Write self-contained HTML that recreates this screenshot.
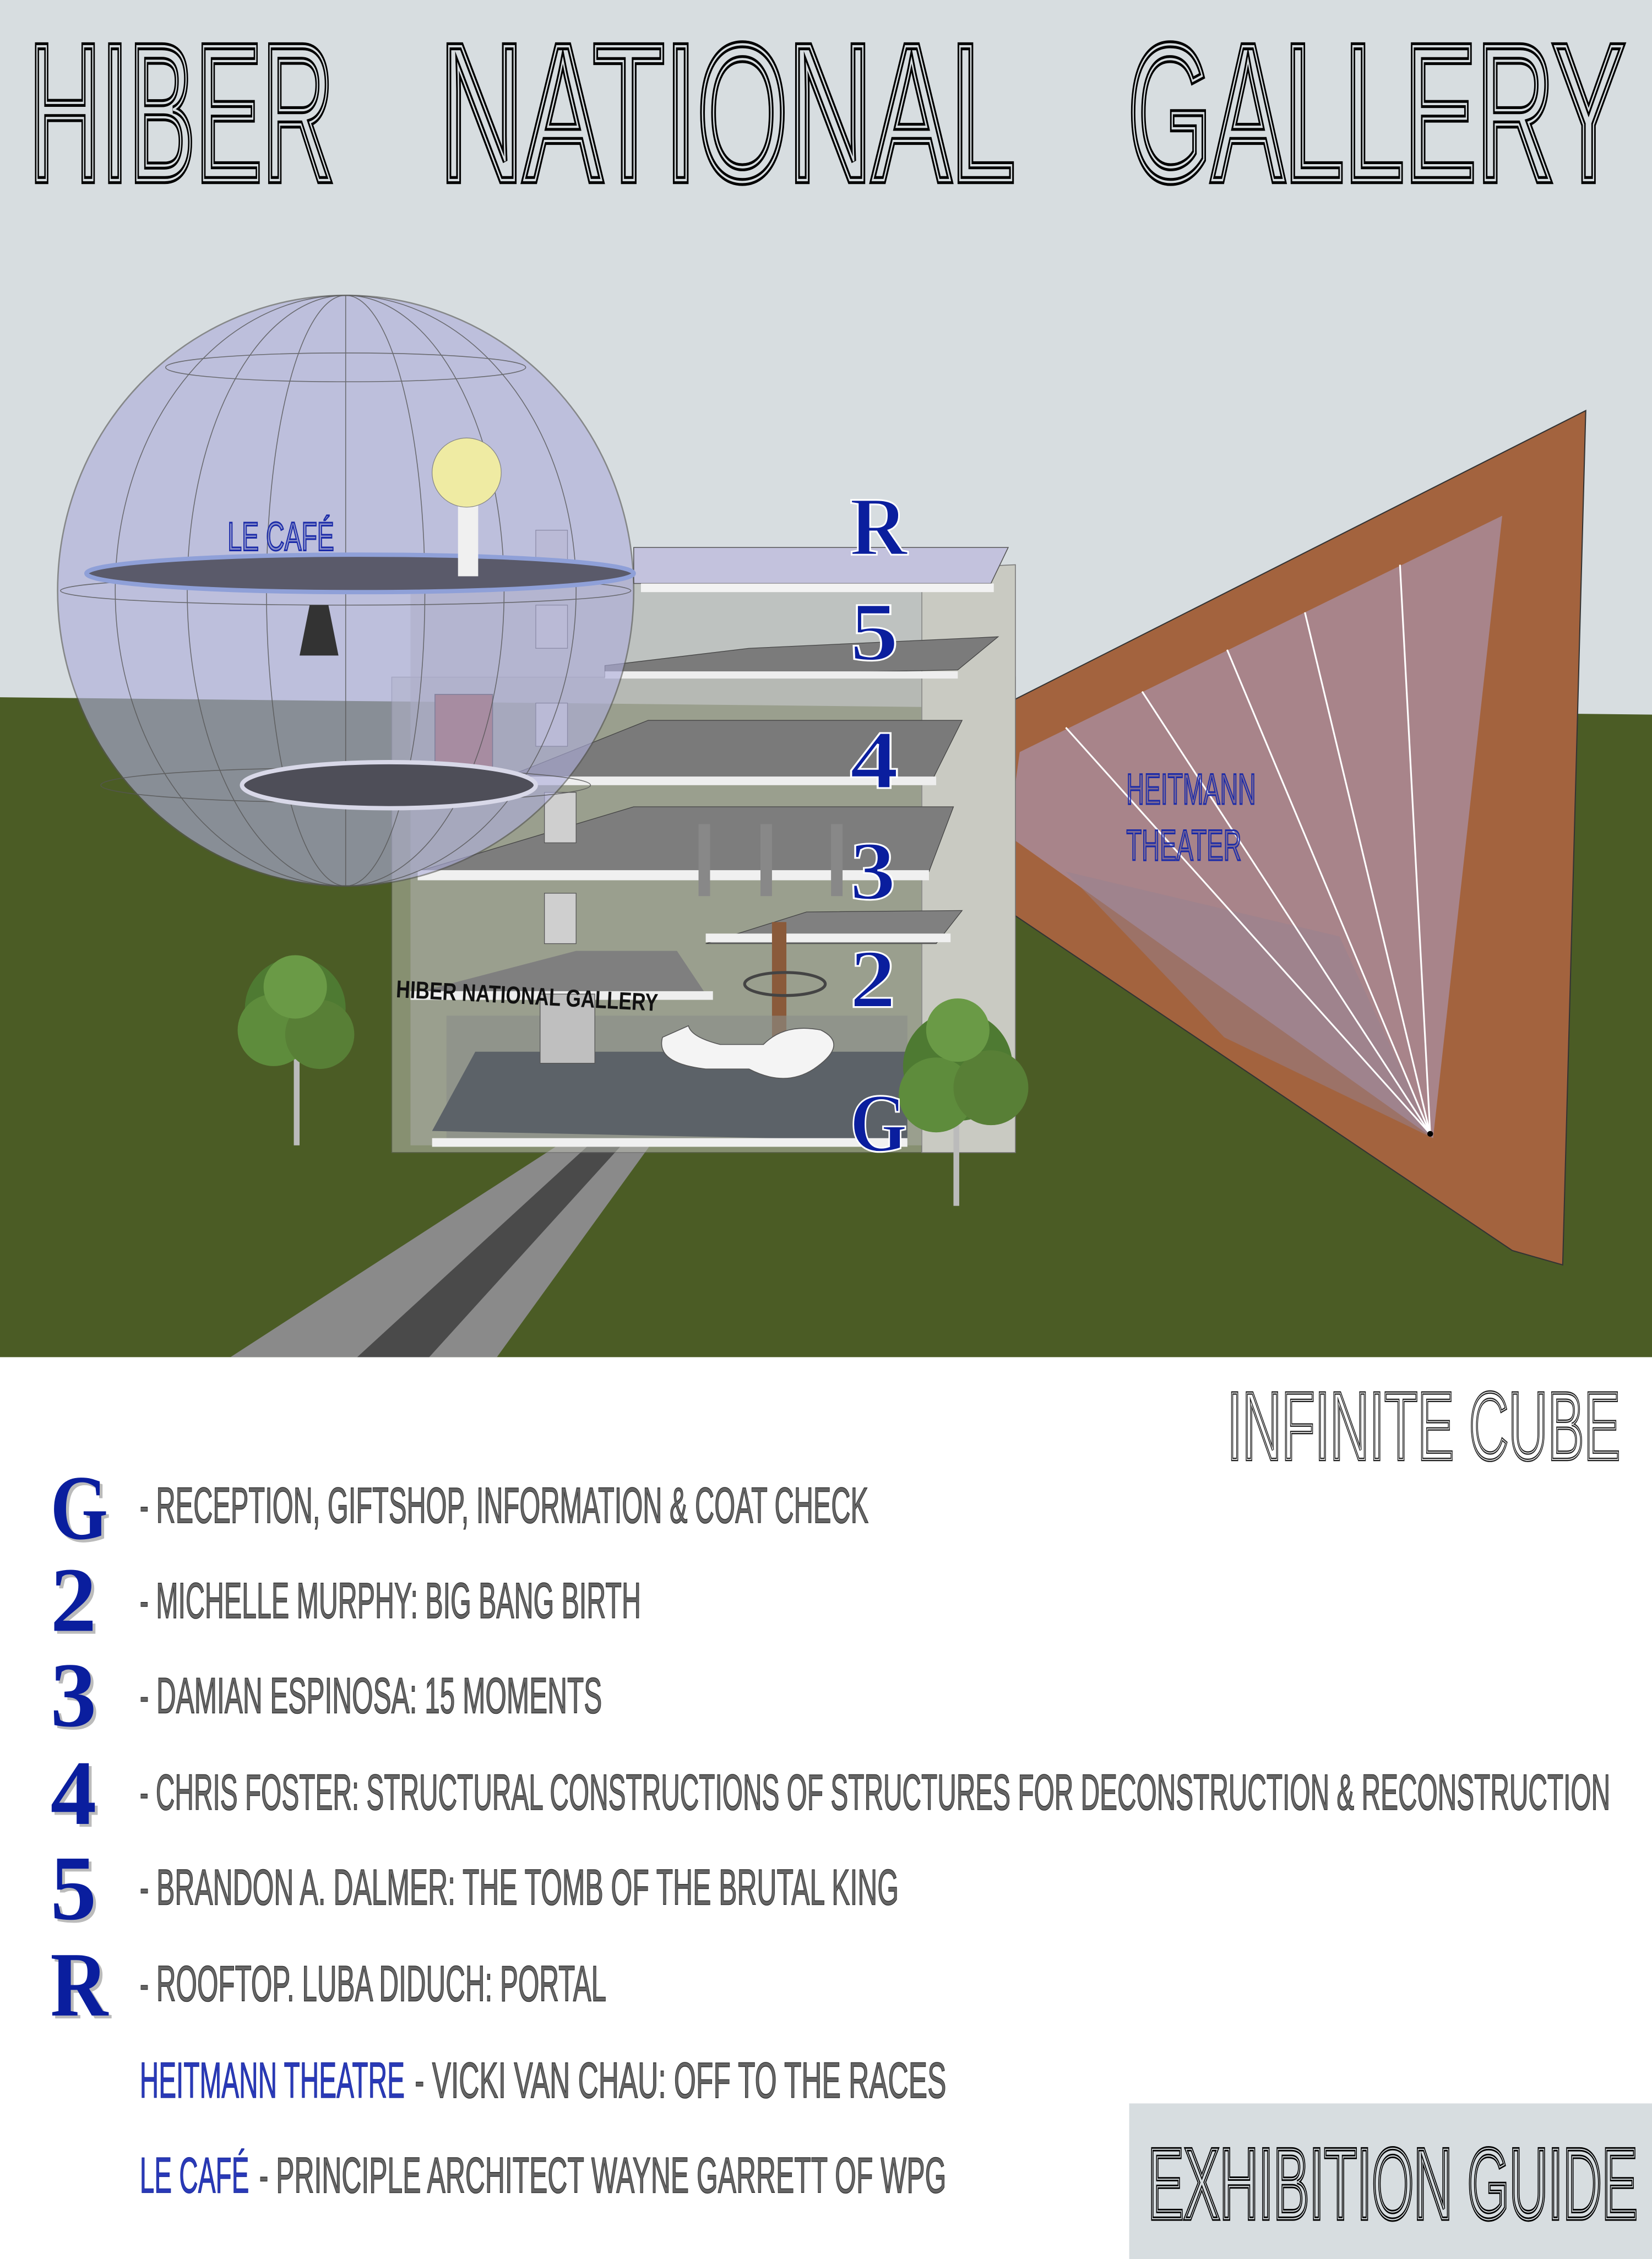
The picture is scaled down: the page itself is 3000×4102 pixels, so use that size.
<!DOCTYPE html>
<html><head><meta charset="utf-8"><style>html,body{margin:0;padding:0;background:#fff}svg{display:block}</style></head>
<body>
<svg width="3000" height="4102" viewBox="0 0 1147 1568" preserveAspectRatio="none" xmlns="http://www.w3.org/2000/svg">
<rect x="0" y="0" width="1147" height="1568" fill="#ffffff"/>
<rect x="0" y="0" width="1147" height="500" fill="#d7dde0"/>
<polygon points="0,484 1147,496 1147,942 0,942" fill="#4b5c25"/>
<polygon points="160,942 395,790 455,790 345,942" fill="#8a8a8a"/>
<polygon points="248,942 414,790 436,790 298,942" fill="#4a4a4a"/>

<g font-family="Liberation Sans, sans-serif" font-size="135" fill="none">
<g stroke="#000" stroke-width="5.5">
<text x="20" y="125" textLength="212" lengthAdjust="spacingAndGlyphs">HIBER</text>
<text x="305" y="125" textLength="400" lengthAdjust="spacingAndGlyphs">NATIONAL</text>
<text x="783" y="125" textLength="345" lengthAdjust="spacingAndGlyphs">GALLERY</text>
</g>
<g stroke="#d7dde0" stroke-width="1.6">
<text x="20" y="125" textLength="212" lengthAdjust="spacingAndGlyphs">HIBER</text>
<text x="305" y="125" textLength="400" lengthAdjust="spacingAndGlyphs">NATIONAL</text>
<text x="783" y="125" textLength="345" lengthAdjust="spacingAndGlyphs">GALLERY</text>
</g>
</g>

<polygon points="666,505 1101,285 1085,878 1050,868 655,602" fill="#a3633e" stroke="#333" stroke-width="0.8"/>
<polygon points="708,522 1043,358 995,790 700,580" fill="#a8848a"/>
<polygon points="740,605 930,650 995,790 850,720" fill="#96818f" opacity="0.5"/>
<g stroke="#fff" stroke-width="1.2">
<line x1="993" y1="787" x2="740" y2="505"/>
<line x1="993" y1="787" x2="793" y2="480"/>
<line x1="993" y1="787" x2="852" y2="451"/>
<line x1="993" y1="787" x2="906" y2="425"/>
<line x1="993" y1="787" x2="972" y2="392"/>
</g>
<circle cx="993" cy="787" r="2" fill="#000"/>
<text x="782" y="558" font-family="Liberation Sans, sans-serif" font-size="30" fill="#1a2aa8" fill-opacity="0.3" stroke="#1a2aa8" stroke-width="1.1" textLength="90" lengthAdjust="spacingAndGlyphs">HEITMANN</text>
<text x="782" y="597" font-family="Liberation Sans, sans-serif" font-size="30" fill="#1a2aa8" fill-opacity="0.3" stroke="#1a2aa8" stroke-width="1.1" textLength="80" lengthAdjust="spacingAndGlyphs">THEATER</text>

<rect x="272" y="470" width="433" height="330" fill="#b8bbb0" opacity="0.55" stroke="#666" stroke-width="0.6"/>
<polygon points="640,395 705,392 705,800 640,800" fill="#c9cac2" stroke="#777" stroke-width="0.6"/>
<rect x="285" y="400" width="355" height="395" fill="#a9aca6" opacity="0.55"/>
<polygon points="440,380 700,380 688,405 440,405" fill="#c3c2dd" stroke="#555" stroke-width="0.6"/>
<rect x="445" y="405" width="245" height="6" fill="#f2f2f2"/>
<polygon points="420,462 520,450 693,442 665,465 420,470" fill="#7b7b7b" stroke="#444" stroke-width="0.5"/>
<rect x="420" y="466" width="245" height="5" fill="#eee"/>
<polygon points="350,540 450,500 668,500 648,540" fill="#7a7a7a" stroke="#444" stroke-width="0.5"/>
<rect x="350" y="539" width="300" height="6" fill="#eee"/>
<polygon points="290,605 440,560 662,560 645,605" fill="#7d7d7d" stroke="#444" stroke-width="0.5"/>
<rect x="290" y="604" width="355" height="7" fill="#f0f0f0"/>
<rect x="485" y="572" width="8" height="50" fill="#888"/>
<rect x="528" y="572" width="8" height="50" fill="#888"/>
<rect x="577" y="572" width="8" height="50" fill="#888"/>
<polygon points="490,655 560,633 668,632 650,655" fill="#808080" stroke="#444" stroke-width="0.5"/>
<rect x="490" y="648" width="170" height="6" fill="#f0f0f0"/>
<polygon points="285,690 400,660 470,660 490,690" fill="#7f7f7f"/>
<rect x="285" y="688" width="210" height="6" fill="#eee"/>
<rect x="536" y="640" width="10" height="95" fill="#8a5a3a"/>
<rect x="310" y="705" width="320" height="90" fill="#8a8d88" opacity="0.6"/>
<polygon points="300,785 330,730 630,730 630,792" fill="#5c6268"/>
<rect x="375" y="690" width="38" height="48" fill="#bfbfbf" stroke="#555" stroke-width="0.5"/>
<path d="M460,720 Q455,738 490,742 L520,742 Q545,755 565,742 Q590,725 570,715 Q545,710 530,725 L500,725 Q480,720 478,712 Z" fill="#f4f4f4" stroke="#555" stroke-width="0.6"/>
<ellipse cx="545" cy="683" rx="28" ry="8" fill="none" stroke="#444" stroke-width="2"/>
<rect x="300" y="790" width="330" height="6" fill="#f0f0f0"/>
<text x="275" y="697" font-family="Liberation Sans, sans-serif" font-weight="bold" font-size="17" fill="#111" textLength="182" lengthAdjust="spacingAndGlyphs" transform="rotate(3 366 690)">HIBER NATIONAL GALLERY</text>
<rect x="372" y="368" width="22" height="28" fill="#cfcfcf" stroke="#555" stroke-width="0.5"/>
<rect x="372" y="420" width="22" height="30" fill="#cfcfcf" stroke="#555" stroke-width="0.5"/>
<rect x="372" y="488" width="22" height="30" fill="#cfcfcf" stroke="#555" stroke-width="0.5"/>
<rect x="378" y="550" width="22" height="35" fill="#cfcfcf" stroke="#555" stroke-width="0.5"/>
<rect x="378" y="620" width="22" height="35" fill="#cfcfcf" stroke="#555" stroke-width="0.5"/>
<rect x="302" y="482" width="40" height="52" fill="#9c5544" stroke="#333" stroke-width="0.6"/>

<ellipse cx="240" cy="410" rx="200" ry="205" fill="#aeaedb" opacity="0.62" stroke="#555" stroke-width="1"/>
<g fill="none" stroke="#555" stroke-width="0.6" opacity="0.8">
<ellipse cx="240" cy="410" rx="160" ry="205"/>
<ellipse cx="240" cy="410" rx="110" ry="205"/>
<ellipse cx="240" cy="410" rx="55" ry="205"/>
<line x1="240" y1="205" x2="240" y2="615"/>
<ellipse cx="240" cy="255" rx="125" ry="10"/>
<ellipse cx="240" cy="410" rx="198" ry="10"/>
<ellipse cx="240" cy="545" rx="170" ry="12"/>
</g>
<ellipse cx="250" cy="398" rx="190" ry="13" fill="#5a5a6a" stroke="#8fa0d8" stroke-width="3"/>
<ellipse cx="270" cy="545" rx="102" ry="16" fill="#4e4e58" stroke="#d8d8e8" stroke-width="3"/>
<rect x="318" y="345" width="14" height="55" fill="#f0f0f0"/>
<circle cx="324" cy="328" r="24" fill="#efeba3" stroke="#888" stroke-width="0.5"/>
<path d="M215,420 L228,420 L235,455 L208,455 Z" fill="#333"/>
<text x="158" y="382" font-family="Liberation Sans, sans-serif" font-size="28" fill="#1a2aa8" fill-opacity="0.3" stroke="#1a2aa8" stroke-width="1.1" textLength="74" lengthAdjust="spacingAndGlyphs">LE CAFÉ</text>

<g>
<rect x="204" y="735" width="4" height="60" fill="#bbb"/>
<circle cx="205" cy="700" r="35" fill="#4e7a32"/>
<circle cx="190" cy="715" r="25" fill="#5e8c3c"/>
<circle cx="222" cy="718" r="24" fill="#587f36"/>
<circle cx="205" cy="685" r="22" fill="#6a9a46"/>
<rect x="662" y="765" width="4" height="72" fill="#bbb"/>
<circle cx="665" cy="740" r="38" fill="#4e7a32"/>
<circle cx="650" cy="760" r="26" fill="#5e8c3c"/>
<circle cx="688" cy="755" r="26" fill="#587f36"/>
<circle cx="665" cy="715" r="22" fill="#6a9a46"/>
</g>

<g font-family="Liberation Serif, serif" font-weight="bold" font-size="58" fill="#0a1e9e" stroke="#fff" stroke-width="1.2">
<text x="590" y="385" textLength="40" lengthAdjust="spacingAndGlyphs">R</text>
<text x="590" y="458" textLength="34" lengthAdjust="spacingAndGlyphs">5</text>
<text x="590" y="547" textLength="34" lengthAdjust="spacingAndGlyphs">4</text>
<text x="590" y="624" textLength="32" lengthAdjust="spacingAndGlyphs">3</text>
<text x="590" y="699" textLength="32" lengthAdjust="spacingAndGlyphs">2</text>
<text x="590" y="799" textLength="40" lengthAdjust="spacingAndGlyphs">G</text>
</g>

<g font-family="Liberation Sans, sans-serif" font-size="67" fill="none">
<text x="852" y="1013" stroke="#222" stroke-width="2.4" textLength="273" lengthAdjust="spacingAndGlyphs">INFINITE CUBE</text>
<text x="852" y="1013" stroke="#fff" stroke-width="0.6" textLength="273" lengthAdjust="spacingAndGlyphs">INFINITE CUBE</text>
</g>
<rect x="784" y="1460" width="363" height="108" fill="#d7dde0"/>
<g font-family="Liberation Sans, sans-serif" font-size="70" fill="none">
<text x="797" y="1540" stroke="#000" stroke-width="3" textLength="340" lengthAdjust="spacingAndGlyphs">EXHIBITION GUIDE</text>
<text x="797" y="1540" stroke="#d7dde0" stroke-width="0.8" textLength="340" lengthAdjust="spacingAndGlyphs">EXHIBITION GUIDE</text>
</g>

<g font-family="Liberation Serif, serif" font-weight="bold" font-size="64">
<g fill="#bbb" transform="translate(2,2)">
<text x="35" y="1068" textLength="40" lengthAdjust="spacingAndGlyphs">G</text>
<text x="35" y="1132" textLength="32" lengthAdjust="spacingAndGlyphs">2</text>
<text x="35" y="1198" textLength="32" lengthAdjust="spacingAndGlyphs">3</text>
<text x="35" y="1266" textLength="32" lengthAdjust="spacingAndGlyphs">4</text>
<text x="35" y="1332" textLength="32" lengthAdjust="spacingAndGlyphs">5</text>
<text x="35" y="1399" textLength="40" lengthAdjust="spacingAndGlyphs">R</text>
</g>
<g fill="#0a1e9e">
<text x="35" y="1068" textLength="40" lengthAdjust="spacingAndGlyphs">G</text>
<text x="35" y="1132" textLength="32" lengthAdjust="spacingAndGlyphs">2</text>
<text x="35" y="1198" textLength="32" lengthAdjust="spacingAndGlyphs">3</text>
<text x="35" y="1266" textLength="32" lengthAdjust="spacingAndGlyphs">4</text>
<text x="35" y="1332" textLength="32" lengthAdjust="spacingAndGlyphs">5</text>
<text x="35" y="1399" textLength="40" lengthAdjust="spacingAndGlyphs">R</text>
</g>
</g>

<g font-family="Liberation Sans, sans-serif" font-size="35" fill="#666" stroke="#333" stroke-width="0.6">
<text x="97" y="1057" textLength="506" lengthAdjust="spacingAndGlyphs">- RECEPTION, GIFTSHOP, INFORMATION &amp; COAT CHECK</text>
<text x="97" y="1123" textLength="348" lengthAdjust="spacingAndGlyphs">- MICHELLE MURPHY: BIG BANG BIRTH</text>
<text x="97" y="1189" textLength="321" lengthAdjust="spacingAndGlyphs">- DAMIAN ESPINOSA: 15 MOMENTS</text>
<text x="97" y="1256" textLength="1021" lengthAdjust="spacingAndGlyphs">- CHRIS FOSTER: STRUCTURAL CONSTRUCTIONS OF STRUCTURES FOR DECONSTRUCTION &amp; RECONSTRUCTION</text>
<text x="97" y="1322" textLength="527" lengthAdjust="spacingAndGlyphs">- BRANDON A. DALMER: THE TOMB OF THE BRUTAL KING</text>
<text x="97" y="1389" textLength="324" lengthAdjust="spacingAndGlyphs">- ROOFTOP. LUBA DIDUCH: PORTAL</text>
<text x="288" y="1456" textLength="369" lengthAdjust="spacingAndGlyphs">- VICKI VAN CHAU: OFF TO THE RACES</text>
<text x="180" y="1522" textLength="477" lengthAdjust="spacingAndGlyphs">- PRINCIPLE ARCHITECT WAYNE GARRETT OF WPG</text>
</g>
<g font-family="Liberation Sans, sans-serif" font-size="35" fill="#2a3ab8" stroke="#1a2a9e" stroke-width="0.5">
<text x="97" y="1456" textLength="184" lengthAdjust="spacingAndGlyphs">HEITMANN THEATRE</text>
<text x="97" y="1522" textLength="76" lengthAdjust="spacingAndGlyphs">LE CAFÉ</text>
</g>
</svg>
</body></html>
